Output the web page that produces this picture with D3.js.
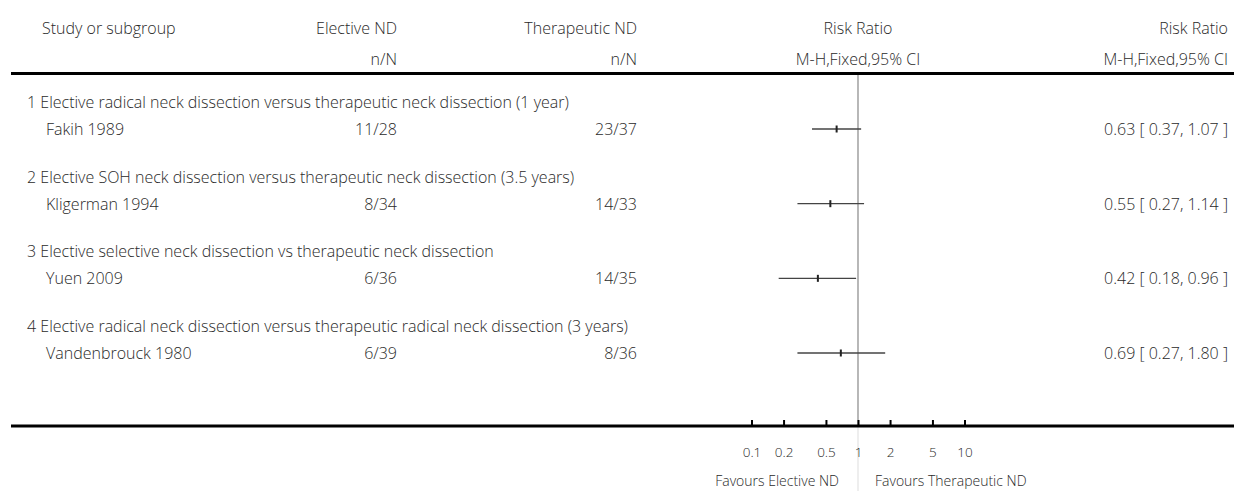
<!doctype html>
<html>
<head>
<script src="https://d3js.org/d3.v7.min.js"></script>
<style>
  body { margin: 0; background: #fff; }
  svg text { font-family: "Open Sans", Lato, sans-serif; font-weight: 300; font-size: 16px; fill: #2a2a2a; }
</style>
</head>
<body>
<svg></svg>
<script>
// data
var subgroups = [
	"1 Elective radical neck dissection versus therapeutic neck dissection (1 year)",
	"2 Elective SOH neck dissection versus therapeutic neck dissection (3.5 years)",
	"3 Elective selective neck dissection vs therapeutic neck dissection",
	"4 Elective radical neck dissection versus therapeutic radical neck dissection (3 years)"
];
var studies = ["Fakih 1989", "Kligerman 1994", "Yuen 2009", "Vandenbrouck 1980"];
var electiveNN = ["11/28", "8/34", "6/36", "6/39"];
var therapeuticNN = ["23/37", "14/33", "14/35", "8/36"];
var rr = [0.63, 0.55, 0.42, 0.69];
var lo = [0.37, 0.27, 0.18, 0.27];
var hi = [1.07, 1.14, 0.96, 1.80];
var tickVals = [0.1, 0.2, 0.5, 1, 2, 5, 10];
var tickLabels = ["0.1", "0.2", "0.5", "1", "2", "5", "10"];

var W = 1234, H = 491;
var svg = d3.select("svg").attr("width", W).attr("height", H);

var x = d3.scaleLog().domain([0.1, 10]).range([751.5, 964.5]);
var yRow = d3.scaleLinear().domain([0, 3]).range([129, 353]);
var SUB_OFF = 27;
var AXIS_Y = 426;

var colStudy = 46, colSub = 27, colE = 397, colT = 637, colRR = 1228;

function txt(g, xx, yy, s, anchor) {
	return g.append("text")
		.attr("x", xx).attr("y", yy)
		.attr("dominant-baseline", "central")
		.attr("text-anchor", anchor || "start")
		.text(s);
}

// header
var hd = svg.append("g");
txt(hd, 42, 28, "Study or subgroup");
txt(hd, colE, 28, "Elective ND", "end");
txt(hd, colE, 59, "n/N", "end");
txt(hd, colT, 28, "Therapeutic ND", "end");
txt(hd, colT, 59, "n/N", "end");
txt(hd, x(1), 28, "Risk Ratio", "middle");
txt(hd, x(1), 59, "M-H,Fixed,95% CI", "middle");
txt(hd, colRR, 28, "Risk Ratio", "end");
txt(hd, colRR, 59, "M-H,Fixed,95% CI", "end");

// vertical line of no effect
svg.append("line")
	.attr("x1", x(1)).attr("x2", x(1))
	.attr("y1", 75).attr("y2", AXIS_Y)
	.attr("stroke", "#888").attr("stroke-width", 1.2);
svg.append("line")
	.attr("x1", x(1)).attr("x2", x(1))
	.attr("y1", AXIS_Y).attr("y2", H)
	.attr("stroke", "#ddd").attr("stroke-width", 1);

// thick rules
svg.append("line").attr("x1", 11).attr("x2", W).attr("y1", 73.5).attr("y2", 73.5)
	.attr("stroke", "#000").attr("stroke-width", 3);
svg.append("line").attr("x1", 11).attr("x2", W).attr("y1", AXIS_Y).attr("y2", AXIS_Y)
	.attr("stroke", "#000").attr("stroke-width", 3);

// rows
var rows = svg.append("g").selectAll("g").data(studies).enter().append("g");
rows.each(function(d, i) {
	var g = d3.select(this), yy = yRow(i);
	txt(g, colSub, yy - SUB_OFF, subgroups[i]);
	txt(g, colStudy, yy, d);
	txt(g, colE, yy, electiveNN[i], "end");
	txt(g, colT, yy, therapeuticNN[i], "end");
	txt(g, colRR, yy, rr[i].toFixed(2) + " [ " + lo[i].toFixed(2) + ", " + hi[i].toFixed(2) + " ]", "end");
	g.append("line")
		.attr("x1", x(lo[i])).attr("x2", x(hi[i]))
		.attr("y1", yy).attr("y2", yy)
		.attr("stroke", "#444").attr("stroke-width", 1.3);
	g.append("rect")
		.attr("x", x(rr[i]) - 1).attr("y", yy - 3.5)
		.attr("width", 2).attr("height", 7)
		.attr("fill", "#222");
});

// axis
var axis = d3.axisBottom(x)
	.tickValues(tickVals)
	.tickFormat(function(d, i) { return tickLabels[i]; })
	.tickSizeInner(-6).tickSizeOuter(0)
	.tickPadding(21);
var ag = svg.append("g").attr("transform", "translate(0," + AXIS_Y + ")").call(axis);
ag.select(".domain").remove();
ag.selectAll(".tick line").attr("stroke", "#000").attr("stroke-width", 2);
ag.selectAll(".tick text").attr("font-family", null).attr("font-size", null).style("font-size", "13.5px");

// favours labels
txt(svg, x(1) - 19, 480, "Favours Elective ND", "end").style("font-size", "14px");
txt(svg, x(1) + 17, 480, "Favours Therapeutic ND").style("font-size", "14px");
</script>
</body>
</html>
